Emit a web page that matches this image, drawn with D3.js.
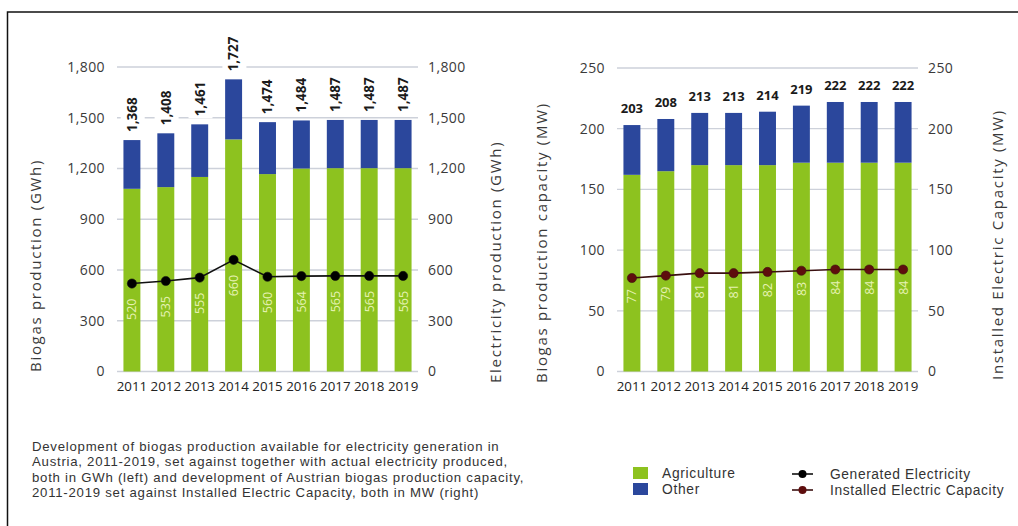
<!DOCTYPE html>
<html><head><meta charset="utf-8">
<script src="https://cdn.jsdelivr.net/npm/d3@7/dist/d3.min.js"></script>
<style>
body{margin:0;background:#fff;}
svg{display:block;font-family:"Open Sans",sans-serif;}
</style></head>
<body>
<svg id="c" width="1018" height="526"></svg>
<script>
const years = ["2011","2012","2013","2014","2015","2016","2017","2018","2019"];
// Left chart (GWh)
const bioAgri = [1080, 1090, 1150, 1372, 1167, 1200, 1202, 1202, 1202];
const bioTotal = [1368, 1408, 1461, 1727, 1474, 1484, 1487, 1487, 1487];
const genElec = [520, 535, 555, 660, 560, 564, 565, 565, 565];
const leftTicks = [0, 300, 600, 900, 1200, 1500, 1800];
// Right chart (MW)
const capAgri = [162, 165, 170, 170, 170, 172, 172, 172, 172];
const capTotal = [203, 208, 213, 213, 214, 219, 222, 222, 222];
const instCap = [77, 79, 81, 81, 82, 83, 84, 84, 84];
const rightTicks = [0, 50, 100, 150, 200, 250];

const GREEN = "#8dc21f", BLUE = "#2b479c", GRID = "#cdd1da", TXT = "#3a3a3a";
const SANS2 = "'Liberation Sans', Arial, sans-serif";
const svg = d3.select("#c");
svg.append("rect").attr("x",7.5).attr("y",12).attr("width",1030).attr("height",530)
  .attr("fill","none").attr("stroke","#111").attr("stroke-width",1.5);

function panel(opt){
  const x = d3.scaleBand().domain(years).range([opt.x0, opt.x1]).paddingInner(0.5).paddingOuter(0.19);
  const y = d3.scaleLinear().domain([0, opt.max]).range([371.5, opt.top]);
  const g = svg.append("g");
  const fmt = d3.format(",");
  g.selectAll("line.grid").data(opt.ticks).join("line")
    .attr("x1", opt.x0).attr("x2", opt.x1).attr("y1", d=>y(d)).attr("y2", d=>y(d))
    .attr("stroke", GRID).attr("stroke-width", 1.3);
  const axL = d3.axisLeft(y).tickValues(opt.ticks).tickFormat(fmt).tickSize(0).tickPadding(12);
  const axR = d3.axisRight(y).tickValues(opt.ticks).tickFormat(fmt).tickSize(0).tickPadding(10);
  const gl = g.append("g").attr("transform",`translate(${opt.x0},0)`).call(axL);
  const gr = g.append("g").attr("transform",`translate(${opt.x1},0)`).call(axR);
  [gl,gr].forEach(a=>{a.select(".domain").remove(); a.selectAll("text").attr("font-size",14).attr("letter-spacing",0.4).attr("fill",TXT).attr("font-family","Open Sans");});
  const bw = x.bandwidth();
  g.selectAll("rect.agri").data(years).join("rect")
    .attr("x", d=>x(d)).attr("width", bw)
    .attr("y", (d,i)=>y(opt.agri[i])).attr("height",(d,i)=>y(0)-y(opt.agri[i]))
    .attr("fill", GREEN);
  g.selectAll("rect.oth").data(years).join("rect")
    .attr("x", d=>x(d)).attr("width", bw)
    .attr("y", (d,i)=>y(opt.total[i])).attr("height",(d,i)=>y(opt.agri[i])-y(opt.total[i]))
    .attr("fill", BLUE);
  const axB = d3.axisBottom(x).tickSize(0).tickPadding(10);
  const gb = g.append("g").attr("transform",`translate(0,${y(0)})`).call(axB);
  gb.select(".domain").remove();
  gb.selectAll("text").attr("font-size",13.3).attr("fill","#222").attr("font-family","Open Sans");
  if (opt.rotTotals){
    const tg = g.selectAll("g.tot").data(years).join("g")
      .attr("transform",(d,i)=>`translate(${x(d)+bw/2+4.8},${y(opt.total[i])-8}) rotate(-90)`);
    const bgs = tg.append("rect").attr("fill","#fff");
    const ts = tg.append("text").attr("x",0).attr("y",0).attr("font-size",13.5).attr("font-weight","bold")
      .attr("fill","#1a1a1a").text((d,i)=>fmt(opt.total[i]));
    ts.each(function(d,i){
      const L = this.getComputedTextLength();
      d3.select(bgs.nodes()[i]).attr("x",-2).attr("y",-16).attr("width",L+4).attr("height",24);
    });
  } else {
    g.selectAll("text.tot").data(years).join("text")
      .attr("x",d=>x(d)+bw/2).attr("y",(d,i)=>y(opt.total[i])-12)
      .attr("text-anchor","middle").attr("font-size",13).attr("font-weight","bold")
      .attr("fill","#1a1a1a").text((d,i)=>fmt(opt.total[i]));
  }
  const pts = years.map((d,i)=>[x(d)+bw/2, y(opt.line[i])]);
  g.append("path").attr("d", d3.line()(pts)).attr("fill","none")
    .attr("stroke", opt.lineColor).attr("stroke-width",1.6);
  g.selectAll("circle.pt").data(pts).join("circle")
    .attr("cx",d=>d[0]).attr("cy",d=>d[1]).attr("r",4.6)
    .attr("fill",opt.dotColor).attr("stroke",opt.lineColor).attr("stroke-width",0.6);
  g.selectAll("text.inner").data(years).join("text")
    .attr("transform",(d,i)=>`translate(${x(d)+bw/2+4.5},${y(opt.line[i])+opt.innerOff}) rotate(-90)`)
    .attr("text-anchor","end").attr("font-size",12.5).attr("fill","#e6f2b4")
    .text((d,i)=>opt.line[i]);
  opt.titles.forEach(t=>{
    svg.append("text").attr("transform",`translate(${t.x},${t.y}) rotate(-90)`)
      .attr("font-size",15).attr("letter-spacing",1.7).attr("fill",TXT).text(t.text);
  });
}

panel({x0:117, x1:418, top:67, max:1800, ticks:leftTicks, agri:bioAgri, total:bioTotal,
  line:genElec, lineColor:"#111", dotColor:"#000", innerOff:15, rotTotals:true,
  titles:[{x:41,y:372,text:"Biogas production (GWh)"},{x:501,y:383,text:"Electricity production (GWh)"}]});
panel({x0:617, x1:918, top:68, max:250, ticks:rightTicks, agri:capAgri, total:capTotal,
  line:instCap, lineColor:"#3a1010", dotColor:"#5e0d0d", innerOff:11, rotTotals:false,
  titles:[{x:547,y:383,text:"Biogas production capacity (MW)"},{x:1003,y:380,text:"Installed Electric Capacity (MW)"}]});

const caption = [
 "Development of biogas production available for electricity generation in",
 "Austria, 2011-2019, set against together with actual electricity produced,",
 "both in GWh (left) and development of Austrian biogas production capacity,",
 "2011-2019 set against Installed Electric Capacity, both in MW (right)"];
svg.append("g").selectAll("text").data(caption).join("text")
  .attr("x",32).attr("y",(d,i)=>451+i*15.4).attr("font-size",13.2).attr("font-family",SANS2)
  .attr("letter-spacing",0.75).attr("fill","#333").text(d=>d);

const legBars = [{n:"Agriculture",c:GREEN},{n:"Other",c:BLUE}];
const lg = svg.append("g");
lg.selectAll("rect").data(legBars).join("rect")
  .attr("x",633).attr("y",(d,i)=>467+i*16).attr("width",15).attr("height",12).attr("fill",d=>d.c);
lg.selectAll("text.lb").data(legBars).join("text")
  .attr("x",662).attr("y",(d,i)=>478+i*16).attr("font-size",13.8).attr("font-family",SANS2)
  .attr("letter-spacing",0.7).attr("fill","#333").text(d=>d.n);
const legLines = [{n:"Generated Electricity",l:"#111",d:"#000"},{n:"Installed Electric Capacity",l:"#3a1010",d:"#5e0d0d"}];
legLines.forEach((o,i)=>{
  const yy = 474+i*16;
  lg.append("line").attr("x1",792).attr("x2",813).attr("y1",yy).attr("y2",yy).attr("stroke",o.l).attr("stroke-width",1.6);
  lg.append("circle").attr("cx",802.5).attr("cy",yy).attr("r",4).attr("fill",o.d);
  lg.append("text").attr("x",830).attr("y",yy+4.5).attr("font-size",13.8).attr("font-family",SANS2)
    .attr("letter-spacing",0.6).attr("fill","#333").text(o.n);
});
</script>
</body></html>
